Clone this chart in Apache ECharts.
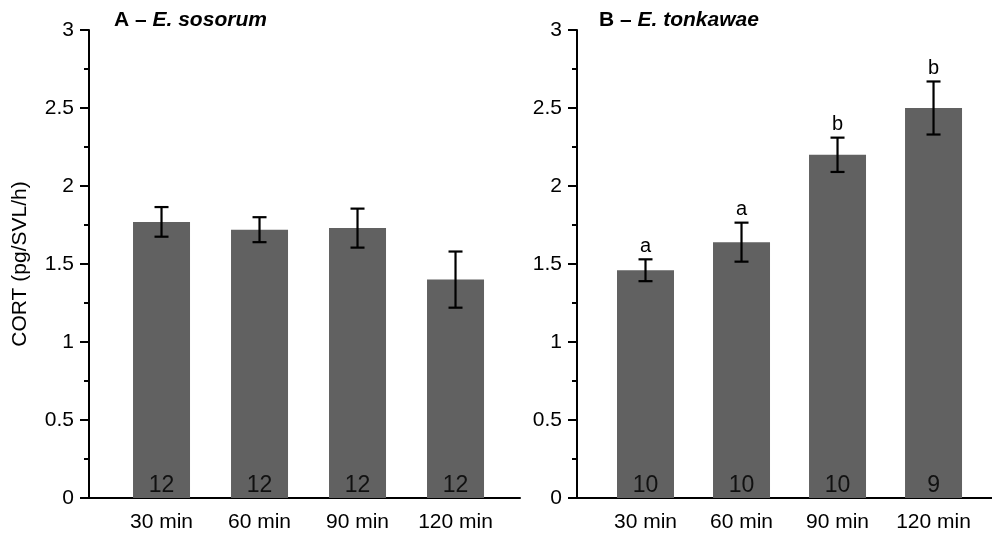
<!DOCTYPE html>
<html>
<head>
<meta charset="utf-8">
<script src="https://cdn.jsdelivr.net/npm/echarts@6/dist/echarts.min.js"></script>
<style>html,body{margin:0;padding:0;background:#fff;}#c{width:992px;height:533px;}</style>
</head>
<body>
<div id="c"></div>
<script>
const categories = ['30 min', '60 min', '90 min', '120 min'];
const meanA = [1.77, 1.72, 1.73, 1.40];
const errA = [0.095, 0.08, 0.125, 0.18];
const nA = [12, 12, 12, 12];
const meanB = [1.46, 1.64, 2.20, 2.50];
const errB = [0.07, 0.125, 0.11, 0.17];
const nB = [10, 10, 10, 9];
const lettersA = ['', '', '', ''];
const lettersB = ['a', 'a', 'b', 'b'];
const yTicks = [0, 0.5, 1, 1.5, 2, 2.5, 3];

const FONT = 'Liberation Sans, Arial, Helvetica, sans-serif';
const BAR = '#616161';

function barData(mean) { return mean.map((v, i) => [i + 1, v]); }
function errData(mean, err) { return mean.map((v, i) => [i + 1, v - err[i], v + err[i]]); }

function errSeries(gi, mean, err, letters) {
  return {
    type: 'custom', xAxisIndex: gi, yAxisIndex: gi, z: 5,
    data: errData(mean, err),
    renderItem: function (params, api) {
      const x = api.value(0);
      const lo = api.coord([x, api.value(1)]);
      const hi = api.coord([x, api.value(2)]);
      const hw = 7;
      const st = { stroke: '#000', lineWidth: 2.2 };
      const children = [
        { type: 'line', shape: { x1: lo[0], y1: lo[1], x2: hi[0], y2: hi[1] }, style: st },
        { type: 'line', shape: { x1: lo[0] - hw, y1: lo[1], x2: lo[0] + hw, y2: lo[1] }, style: st },
        { type: 'line', shape: { x1: hi[0] - hw, y1: hi[1], x2: hi[0] + hw, y2: hi[1] }, style: st }
      ];
      const t = letters[params.dataIndex];
      if (t) {
        children.push({ type: 'text', style: { text: t, x: hi[0], y: hi[1] - 3, align: 'center', verticalAlign: 'bottom', fontSize: 20, fontFamily: FONT, fill: '#000' } });
      }
      return { type: 'group', children: children };
    }
  };
}

function barSeries(gi, mean, n) {
  return {
    type: 'bar', xAxisIndex: gi, yAxisIndex: gi, barWidth: 57,
    data: barData(mean),
    itemStyle: { color: BAR },
    label: {
      show: true, position: 'insideBottom', distance: 1,
      formatter: p => String(n[p.dataIndex]),
      fontSize: 23, fontFamily: FONT, color: '#111'
    }
  };
}

function xAx(gi, min, max) {
  return {
    type: 'value', gridIndex: gi, min: min, max: max,
    splitLine: { show: false },
    axisLine: { show: true, onZero: false, lineStyle: { color: '#000', width: 2 } },
    axisTick: { show: false },
    axisLabel: {
      customValues: [1, 2, 3, 4],
      formatter: v => categories[Math.round(v) - 1] || '',
      fontSize: 21, fontFamily: FONT, color: '#000', margin: 14
    }
  };
}

function yAx(gi, withName) {
  const o = {
    type: 'value', gridIndex: gi, min: 0, max: 3, interval: 0.5,
    splitLine: { show: false },
    axisLine: { show: true, lineStyle: { color: '#000', width: 2 } },
    axisTick: { show: true, length: 9, lineStyle: { color: '#000', width: 2 } },
    minorTick: { show: true, splitNumber: 2, length: 5, lineStyle: { color: '#000', width: 2 } },
    axisLabel: {
      customValues: yTicks,
      fontSize: 21, fontFamily: FONT, color: '#000', margin: 15
    }
  };
  if (withName) {
    o.name = 'CORT (pg/SVL/h)';
    o.nameLocation = 'middle';
    o.nameGap = 58;
    o.nameTextStyle = { fontSize: 21, fontFamily: FONT, color: '#000' };
  }
  return o;
}

const titleStyle = {
  fontSize: 21, fontWeight: 'bold', fontFamily: FONT, color: '#000',
  rich: { i: { fontSize: 21, fontWeight: 'bold', fontStyle: 'italic', fontFamily: FONT, color: '#000' } }
};

const chart = echarts.init(document.getElementById('c'), null, { renderer: 'canvas' });
chart.setOption({
  animation: false,
  backgroundColor: '#fff',
  title: [
    { text: 'A – {i|E. sosorum}', left: 114, top: 10, padding: 0, textStyle: titleStyle },
    { text: 'B – {i|E. tonkawae}', left: 599, top: 10, padding: 0, textStyle: titleStyle }
  ],
  grid: [
    { left: 89, top: 30, width: 431, height: 468 },
    { left: 577, top: 30, width: 415, height: 468 }
  ],
  xAxis: [xAx(0, 0.26, 4.658), xAx(1, 0.2865, 4.609)],
  yAxis: [yAx(0, true), yAx(1, false)],
  series: [
    barSeries(0, meanA, nA),
    errSeries(0, meanA, errA, lettersA),
    barSeries(1, meanB, nB),
    errSeries(1, meanB, errB, lettersB)
  ]
});
</script>
</body>
</html>
